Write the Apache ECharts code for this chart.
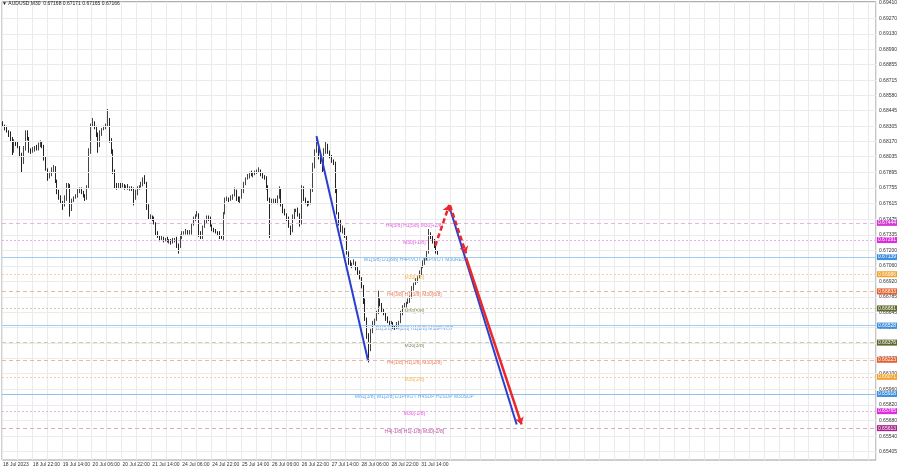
<!DOCTYPE html>
<html><head><meta charset="utf-8">
<script src="https://cdn.jsdelivr.net/npm/echarts@6/dist/echarts.min.js"></script>
<style>html,body{margin:0;padding:0;background:#fff}#c{width:900px;height:468px}</style>
</head><body><div id="c"></div>
<script>
// ---------------- data ----------------
const symbolTitle = 'AUDUSD,M30';
const lastQuote = [0.67168, 0.67171, 0.67165, 0.67166];
const firstOpen = 6833; // pips (x 1e-4)
const closes = [
6831,6829,6826,6823,6819,6808,6816,6815,6812,6806,
6799,6810,6825,6820,6810,6808,6810,6812,6810,6813,
6816,6813,6802,6792,6785,6788,6791,6794,6782,6773,
6767,6763,6760,6766,6776,6778,6757,6764,6767,6768,
6773,6775,6771,6769,6767,6776,6808,6831,6834,6830,
6823,6813,6824,6828,6829,6831,6836,6819,6808,6791,
6778,6776,6779,6777,6778,6776,6777,6775,6776,6775,
6766,6771,6775,6777,6779,6782,6780,6759,6749,6750,
6748,6744,6735,6732,6730,6731,6729,6730,6728,6729,
6727,6729,6730,6725,6723,6732,6735,6736,6737,6735,
6736,6743,6748,6751,6752,6735,6732,6741,6746,6750,
6748,6742,6739,6737,6736,6735,6732,6731,6753,6765,
6766,6765,6767,6769,6773,6766,6764,6767,6773,6780,
6784,6786,6789,6787,6788,6789,6790,6791,6788,6786,
6785,6776,6766,6762,6764,6765,6763,6767,6774,6761,
6755,6752,6748,6741,6737,6749,6755,6756,6752,6744,
6775,6766,6762,6761,6763,6773,6795,6808,6812,6803,
6798,6792,6808,6813,6808,6803,6800,6798,6773,6753,
6744,6737,6738,6732,6718,6709,6706,6708,6709,6704,
6700,6695,6688,6675,6659,6644,6632,6647,6655,6658,
6664,6675,6672,6666,6663,6659,6656,6655,6655,6652,
6651,6654,6656,6664,6670,6671,6673,6675,6678,6686,
6690,6693,6696,6700,6705,6709,6712,6718,6734,6732,
6728,6723,6719,6717
];
const upperWicks = [
2,1,2,1,3,2,3,1,2,1,
1,3,2,2,1,1,2,1,2,3,
2,1,1,2,1,2,3,2,1,1,
1,2,1,3,4,2,1,2,1,2,
2,1,1,2,1,2,3,2,4,1,
1,2,3,1,2,2,10,2,1,2,
1,2,1,1,2,1,1,2,1,1,
1,3,2,1,2,3,5,1,2,2,
1,2,1,2,1,2,1,1,2,1,
1,2,1,2,1,2,2,1,2,1,
2,1,2,1,3,1,2,1,2,1,
1,2,1,1,2,1,2,1,1,2,
2,1,2,1,3,1,2,1,2,1,
1,2,1,2,1,2,2,3,1,1,
1,1,2,1,2,1,1,2,3,1,
1,2,1,2,1,3,2,1,2,1,
3,2,1,2,1,2,3,2,10,2,
2,1,3,4,2,1,2,1,1,2,
1,3,4,2,1,1,2,1,3,1,
1,2,1,1,2,1,2,3,2,1,
2,9,2,1,2,1,2,1,2,1,
1,2,1,2,1,2,1,2,1,2,
1,2,1,2,1,2,1,2,5,2,
1,2,1,1
];
const lowerWicks = [
1,2,1,2,2,3,1,2,1,3,
10,2,1,2,3,2,1,2,1,1,
1,2,2,1,3,1,2,2,2,3,
2,1,4,1,2,1,7,2,1,1,
1,2,1,2,3,2,1,2,1,2,
2,6,1,2,1,1,1,3,2,3,
3,2,1,2,1,2,1,1,2,2,
6,1,2,1,1,2,1,3,2,1,
2,1,2,1,2,1,2,1,1,2,
2,1,2,3,6,1,2,1,2,1,
1,2,1,2,1,3,2,2,1,2,
2,1,2,1,1,2,2,1,2,1,
1,2,1,2,1,2,1,2,1,2,
2,1,2,1,2,1,1,1,2,2,
2,2,2,31,1,2,1,2,1,2,
2,1,2,1,4,1,2,1,2,3,
1,2,1,2,1,2,1,2,1,2,
1,3,1,2,2,1,2,2,2,1,
2,1,2,1,2,2,1,2,1,2,
2,1,2,3,2,3,12,2,1,2,
1,1,2,2,1,2,1,2,1,2,
2,1,2,1,2,1,2,1,2,1,
2,1,2,1,2,1,2,1,1,2,
2,1,2,1
];
const xTickLabels = ['18 Jul 2023','18 Jul 22:00','19 Jul 14:00','20 Jul 06:00','20 Jul 22:00','21 Jul 14:00','24 Jul 06:00','24 Jul 22:00','25 Jul 14:00','26 Jul 06:00','26 Jul 22:00','27 Jul 14:00','28 Jul 06:00','28 Jul 22:00','31 Jul 14:00'];
const yTickValues = [0.69410,0.69270,0.69130,0.68990,0.68855,0.68715,0.68580,0.68445,0.68305,0.68170,0.68035,0.67895,0.67755,0.67615,0.67475,0.67335,0.67200,0.67060,0.66920,0.66785,0.66645,0.66510,0.66370,0.66235,0.66100,0.65960,0.65820,0.65680,0.65540,0.65405];
const levelPrices = [0.67444,0.67291,0.67139,0.66986,0.66833,0.66681,0.66528,0.66376,0.66223,0.66071,0.65918,0.65765,0.65613];
const levelNames = ['H4[5/8] H1[5/8] M30[+2/8]','M30[+1/8]','W1[5/8] D1[8/8] H4PIVOT H1PIVOT M30RES','M30[7/8]','H4[3/8] H1[3/8] M30[6/8]','M30[5/8]','D1[5/8] H4[2/8] H1[2/8] M30PIVOT','M30[3/8]','H4[1/8] H1[1/8] M30[2/8]','M30[1/8]','MN1[3/8] W1[2/8] D1PIVOT H4SUP H1SUP M30SUP','M30[-1/8]','H4[-1/8] H1[-1/8] M30[-2/8]'];
const bidPrice = 0.67166;
// drawings: [bar index, price]
const blueTrendLines = [[[167.9,0.68217],[195.4,0.66224]],[[239.1,0.67586],[275.1,0.65646]]];
const redDashedArrows = [[[231.5,0.67240],[239.0,0.67604]],[[239.4,0.67600],[248.0,0.67172]]];
const redSolidArrows = [[[248.0,0.67133],[277.7,0.65646]]];

// ---------------- layout / style ----------------
const TOTAL_SLOTS = 468;
const LABEL_X = 220.3;
const FONT = 'Liberation Sans, Arial, sans-serif';
const MAG='#d23bd2', MAG2='#e02ce0', BLUE='#3d8fe0', ORG='#f2a12a', RED='#e5602e', OLV='#5e6b2c', PUR='#a8228a';
const levelStyle = [
 {c:MAG,  line:'#e6b4dc', t:[4,3]},
 {c:MAG2, line:'#e7b0e7', t:[2,2]},
 {c:BLUE, line:'#a3cdf0', t:'solid'},
 {c:ORG,  line:'#f2d19c', t:[2,2]},
 {c:RED,  line:'#ebb5a3', t:[4,3]},
 {c:OLV,  line:'#cbcbb0', t:[2,2]},
 {c:BLUE, line:'#a3cdf0', t:'solid'},
 {c:OLV,  line:'#cbcbb0', t:[4,3]},
 {c:RED,  line:'#ebb5a3', t:[4,3]},
 {c:ORG,  line:'#f2d19c', t:[2,2]},
 {c:BLUE, line:'#8fbfee', t:'solid'},
 {c:MAG2, line:'#e2b0e2', t:[2,2]},
 {c:PUR,  line:'#d8aac8', t:[4,3]}
];

const months = ['Jan','Feb','Mar','Apr','May','Jun','Jul','Aug','Sep','Oct','Nov','Dec'];
const categories = [];
{
  let t = Date.UTC(2023,6,18,6);
  while (categories.length < TOTAL_SLOTS) {
    const d = new Date(t); const wd = d.getUTCDay();
    if (wd !== 0 && wd !== 6) {
      categories.push(d.getUTCDate()+' '+months[d.getUTCMonth()]+' '+String(d.getUTCHours()).padStart(2,'0')+':00');
    }
    t += 3600000;
  }
}
const candles = closes.map((c,i)=>{
  const o = i===0 ? firstOpen : closes[i-1];
  const h = Math.max(o,c) + upperWicks[i];
  const l = Math.min(o,c) - lowerWicks[i];
  return [o/1e4, c/1e4, l/1e4, h/1e4];
});

const chart = echarts.init(document.getElementById('c'), null, {renderer:'canvas'});
chart.setOption({
  animation:false,
  backgroundColor:'#ffffff',
  title:{text:'\u25BC '+symbolTitle+'  '+lastQuote.map(v=>v.toFixed(5)).join(' '), left:2, top:1, padding:0,
    textStyle:{fontSize:5, fontWeight:'normal', color:'#222', fontFamily:FONT}},
  grid:{left:0, right:22, top:0, bottom:8, show:true, borderColor:'#9c9c9c', borderWidth:1, backgroundColor:'#fff'},
  xAxis:[
    {type:'category', data:categories, boundaryGap:true,
      axisLine:{show:false}, axisTick:{show:false},
      splitLine:{show:true, interval:7, lineStyle:{color:'#ebebeb', width:1}},
      axisLabel:{interval:15, align:'left', margin:2, fontSize:5, color:'#333', fontFamily:FONT,
        formatter:(v,idx)=>{ const k = idx/16; return (Number.isInteger(k) && k < xTickLabels.length) ? xTickLabels[k] : ''; }}},
    {type:'value', min:-0.5, max:TOTAL_SLOTS-0.5, show:false}
  ],
  yAxis:{type:'value', position:'right', min:0.65329, max:0.69417,
    axisLine:{show:false}, axisTick:{show:false}, splitLine:{show:false},
    axisLabel:{customValues:yTickValues, formatter:v=>v.toFixed(5), fontSize:5, margin:3, color:'#333', fontFamily:FONT}},
  series:[
    {type:'line', data:[], z:1, silent:true,
      markLine:{silent:true, precision:6, symbol:'none', label:{show:false},
        lineStyle:{color:'#ebebeb', type:'solid', width:1},
        data:yTickValues.map(v=>({yAxis:v}))}},
    {type:'line', data:[], z:2, silent:true,
      markLine:{silent:true, precision:6, symbol:'none',
        data:levelPrices.map((p,i)=>({yAxis:p,
          lineStyle:{color:levelStyle[i].line, type:levelStyle[i].t, width:1},
          label:{show:true, position:'end', distance:1, formatter:p.toFixed(5), backgroundColor:levelStyle[i].c,
            color:'#fff', fontSize:5, padding:[1,1,0,1], fontFamily:FONT}})).concat([
          {yAxis:bidPrice, lineStyle:{opacity:0},
            label:{show:true, position:'end', distance:1, formatter:bidPrice.toFixed(5), backgroundColor:'#000',
              color:'#fff', fontSize:5, padding:[1,1,0,1], fontFamily:FONT}}])}},
    {type:'candlestick', data:candles, barWidth:1, z:3,
      itemStyle:{color:'#555', color0:'#222', borderColor:'#444', borderColor0:'#222', borderWidth:1}},
    {type:'scatter', xAxisIndex:1, z:4, silent:true, symbolSize:1, itemStyle:{color:'rgba(0,0,0,0)'},
      data:levelPrices.map((p,i)=>({value:[LABEL_X,p], label:{color:levelStyle[i].c}})),
      label:{show:true, position:'bottom', distance:0, fontSize:5, fontFamily:FONT,
        formatter:pr=>levelNames[pr.dataIndex]}},
    {type:'lines', coordinateSystem:'cartesian2d', xAxisIndex:1, yAxisIndex:0, z:5, silent:true,
      symbol:['none','none'], lineStyle:{color:'#2a3fd2', width:2, opacity:1},
      data:blueTrendLines.map(c=>({coords:c}))},
    {type:'lines', coordinateSystem:'cartesian2d', xAxisIndex:1, yAxisIndex:0, z:6, silent:true,
      symbol:['none','arrow'], symbolSize:7, lineStyle:{color:'#e8282a', width:2.5, type:[5,3], opacity:1},
      data:redDashedArrows.map(c=>({coords:c}))},
    {type:'lines', coordinateSystem:'cartesian2d', xAxisIndex:1, yAxisIndex:0, z:6, silent:true,
      symbol:['none','arrow'], symbolSize:7, lineStyle:{color:'#e8282a', width:2.5, opacity:1},
      data:redSolidArrows.map(c=>({coords:c}))}
  ]
});
</script></body></html>
